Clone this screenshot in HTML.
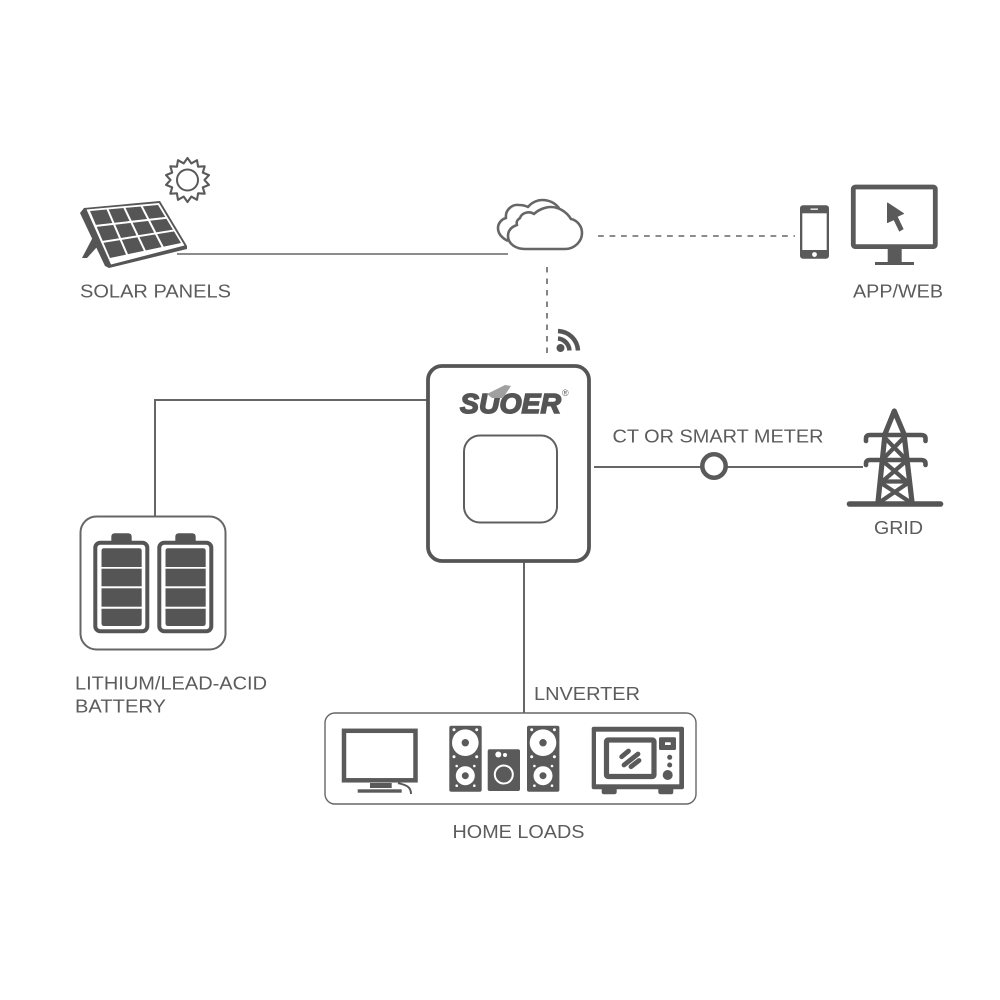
<!DOCTYPE html>
<html><head><meta charset="utf-8"><style>html,body{margin:0;padding:0;background:#fff}svg{display:block}
text{font-family:"Liberation Sans",sans-serif;font-size:18.5px;fill:#5c5c5c}</style></head><body>
<svg width="1000" height="1000" viewBox="0 0 1000 1000" xmlns="http://www.w3.org/2000/svg">
<rect width="1000" height="1000" fill="#fff"/>
<!-- connectors -->
<g fill="none" stroke="#666" stroke-width="1.6">
<path d="M177 254H508"/>
<path d="M598 236H795" stroke-dasharray="5.800 5.700"/>
<path d="M547 267V353" stroke-dasharray="5.500 6"/>
<path d="M427 400H155V516" stroke-width="2"/>
<path d="M594 467H701M727 467H863" stroke-width="2"/>
<path d="M524 562V713" stroke-width="2"/>
</g>
<!-- sun -->
<polygon fill="none" stroke="#5a5a5a" stroke-width="2.100" stroke-linejoin="round" points="204.500,180 209,184.900 202.800,187.400 204.700,193.700 198.100,193.300 197,199.800 191.300,196.600 187.500,202 183.700,196.600 178,199.800 176.900,193.300 170.300,193.700 172.200,187.400 166,184.900 170.500,180 166,175.100 172.200,172.600 170.300,166.300 176.900,166.700 178,160.200 183.700,163.400 187.500,158 191.300,163.400 197,160.200 198.100,166.700 204.700,166.300 202.800,172.600 209,175.100"/>
<circle cx="187.500" cy="180" r="10.500" fill="none" stroke="#5a5a5a" stroke-width="2"/>
<!-- solar panel -->
<polygon fill="#555" points="93,237 82,258 87,258 97,247"/>
<polygon fill="#555" points="80,213 84,208 160,201 187,246 187,249 109,268 105,266"/>
<polygon fill="#fff" points="86.500,209.500 159,203 184.500,245.500 111,264.500"/>
<polygon fill="#555" points="90,211 158,205 181,243 110,258"/>
<g stroke="#fff" stroke-width="2" fill="none">
<path d="M107 208L127.700 256M124 207L145.500 252M141 205L163.200 248"/>
<path d="M95 226L167 217.700M102 242L175 230.300"/>
</g>
<!-- cloud -->
<g fill="none" stroke="#666" stroke-width="2.600" stroke-linejoin="round">
<path d="M508 241C502 238 498 234 498 228C498 223 502 219 506 218C505 210 512 204 519 205C523 205 526 206 528 207C532 202 538 200 542 200C549 200 555 203 559 208"/>
<path fill="#fff" d="M525 249H565C575 249 582 241 582 233C582 225 576 220 571 219C566 211 558 207 551 207C545 207 538 210 534 214C530 211 522 212 520 218C517 220 516 222 517 225C511 227 508 231 508 236C508 244 516 249 525 249Z"/>
</g>
<!-- wifi -->
<circle cx="560.500" cy="348" r="4" fill="#555"/>
<path d="M558 338.500C564 339 569 344 569.500 350.500M558 331C569 331.500 577.500 340 578 350.500" fill="none" stroke="#555" stroke-width="4.500"/>
<!-- phone -->
<rect x="800" y="205.300" width="29" height="53.400" rx="3" fill="#5a5a5a"/>
<rect x="802.300" y="213.300" width="24.400" height="36.700" fill="#fff"/>
<rect x="810.500" y="208.500" width="7.500" height="1.300" fill="#fff"/>
<circle cx="814.500" cy="254.500" r="2.400" fill="#fff"/>
<!-- monitor -->
<rect x="853.300" y="187" width="82" height="59.600" rx="2" fill="#fff" stroke="#5a5a5a" stroke-width="4.800"/>
<rect x="887.700" y="249" width="14" height="14" fill="#5a5a5a"/>
<rect x="875" y="262" width="39" height="3" fill="#5a5a5a"/>
<polygon fill="#5a5a5a" stroke="#5a5a5a" stroke-linejoin="round" stroke-width="1" points="887.500,203 903.500,213.500 897,216.500 903,229 899.500,231 894,219.500 887.500,222.500"/>
<!-- inverter -->
<rect x="428" y="366" width="161" height="195" rx="14" fill="#fff" stroke="#555" stroke-width="3.800"/>
<rect x="464" y="435.500" width="93" height="87" rx="16" fill="#fff" stroke="#5f5f5f" stroke-width="2"/>
<text x="460" y="413" textLength="101" lengthAdjust="spacingAndGlyphs" style="font-size:27.500px;font-weight:bold;font-style:italic;fill:#555;stroke:#555;stroke-width:1.500">SUOER</text>
<polygon fill="#a0a0a0" points="487,394 505,385 511,386 503,398 492,398"/>
<text x="562" y="396" style="font-size:9px">®</text>
<!-- meter -->
<circle cx="714" cy="466" r="11.700" fill="#fff" stroke="#5a5a5a" stroke-width="4.500"/>
<!-- tower -->
<g fill="none" stroke="#555" stroke-linecap="round" stroke-linejoin="round">
<path d="M894.300 411L885 434L878 502M894.300 411L904 434L912 502" stroke-width="5.200"/>
<path d="M866 441V438.500Q866 435 870 435H921Q925.500 435 925.500 438.500V441M866 465V463.500Q866 460 870 460H921Q925.500 460 925.500 463.500V465" stroke-width="4.600"/>
<path d="M885 438L903.500 457M903.500 438L885 457M884 462L905 480M905 462L884 480M881 483L910 502M908 483L880 502M883 481.500H906" stroke-width="4.200"/>
<path d="M849.500 504H940.500" stroke-width="5.600"/>
</g>
<!-- battery box -->
<rect x="80.500" y="516.500" width="145" height="133" rx="16" fill="#fff" stroke="#666" stroke-width="2"/>
<g fill="#555">
<path d="M111.300 541V537Q111.300 533.300 115 533.300H128Q131.700 533.300 131.700 537V541Z"/>
<rect x="95.300" y="542.700" width="52" height="88.600" rx="5" fill="#fff" stroke="#555" stroke-width="4"/>
<path d="M101.500 551Q101.500 548.300 104 548.300H139Q141.700 548.300 141.700 551V567H101.500Z"/>
<rect x="101.500" y="568.700" width="40.200" height="17.600"/>
<rect x="101.500" y="588.300" width="40.200" height="18.400"/>
<path d="M101.500 608.700H141.700V623Q141.700 626 139 626H104Q101.500 626 101.500 623Z"/>
</g>
<g fill="#555" transform="translate(64 0)">
<path d="M111.300 541V537Q111.300 533.300 115 533.300H128Q131.700 533.300 131.700 537V541Z"/>
<rect x="95.300" y="542.700" width="52" height="88.600" rx="5" fill="#fff" stroke="#555" stroke-width="4"/>
<path d="M101.500 551Q101.500 548.300 104 548.300H139Q141.700 548.300 141.700 551V567H101.500Z"/>
<rect x="101.500" y="568.700" width="40.200" height="17.600"/>
<rect x="101.500" y="588.300" width="40.200" height="18.400"/>
<path d="M101.500 608.700H141.700V623Q141.700 626 139 626H104Q101.500 626 101.500 623Z"/>
</g>
<!-- loads box -->
<rect x="325" y="713" width="371" height="91" rx="10" fill="#fff" stroke="#666" stroke-width="1.400"/>
<!-- TV -->
<rect x="344" y="730.800" width="71.500" height="49.500" fill="#fff" stroke="#5a5a5a" stroke-width="4.500"/>
<rect x="370" y="783" width="21.700" height="5" fill="#5a5a5a"/>
<rect x="357.700" y="789.300" width="44" height="3.400" fill="#5a5a5a"/>
<path d="M398 783C405 785 411 786 411 794" fill="none" stroke="#5a5a5a" stroke-width="2"/>
<!-- speakers -->
<g>
<rect x="449.300" y="725.700" width="32.400" height="66" rx="2" fill="#5a5a5a"/>
<circle cx="465.300" cy="742.700" r="13.300" fill="#fff"/><circle cx="465.300" cy="742.700" r="3.700" fill="#5a5a5a"/>
<circle cx="465.300" cy="775.700" r="9.500" fill="#fff"/><circle cx="465.300" cy="775.700" r="3.500" fill="#5a5a5a"/>
<g fill="#fff"><circle cx="454" cy="729.700" r="1.500"/><circle cx="476.700" cy="729.700" r="1.500"/><circle cx="454" cy="756.700" r="1.500"/><circle cx="476.700" cy="756.700" r="1.500"/><circle cx="456.700" cy="766" r="1.300"/><circle cx="474.300" cy="766" r="1.300"/><circle cx="456.700" cy="785.700" r="1.300"/><circle cx="474.300" cy="785.700" r="1.300"/></g>
</g>
<g transform="translate(77.700 0)">
<rect x="449.300" y="725.700" width="32.400" height="66" rx="2" fill="#5a5a5a"/>
<circle cx="465.300" cy="742.700" r="13.300" fill="#fff"/><circle cx="465.300" cy="742.700" r="3.700" fill="#5a5a5a"/>
<circle cx="465.300" cy="775.700" r="9.500" fill="#fff"/><circle cx="465.300" cy="775.700" r="3.500" fill="#5a5a5a"/>
<g fill="#fff"><circle cx="454" cy="729.700" r="1.500"/><circle cx="476.700" cy="729.700" r="1.500"/><circle cx="454" cy="756.700" r="1.500"/><circle cx="476.700" cy="756.700" r="1.500"/><circle cx="456.700" cy="766" r="1.300"/><circle cx="474.300" cy="766" r="1.300"/><circle cx="456.700" cy="785.700" r="1.300"/><circle cx="474.300" cy="785.700" r="1.300"/></g>
</g>
<rect x="487.700" y="749.300" width="32.300" height="41.700" rx="2" fill="#5a5a5a"/>
<circle cx="498.300" cy="754.500" r="3" fill="#fff"/><circle cx="505" cy="755" r="2" fill="#fff"/>
<circle cx="503.800" cy="774.500" r="9" fill="none" stroke="#fff" stroke-width="2"/>
<!-- microwave -->
<rect x="591.700" y="726.700" width="92.300" height="62.600" rx="2" fill="#5a5a5a"/>
<rect x="596" y="731.700" width="83.300" height="52.600" fill="#fff"/>
<path d="M601.700 789H616.700V792Q616.700 794.300 614 794.300H604Q601.700 794.300 601.700 792ZM658.300 789H673.300V792Q673.300 794.300 671 794.300H661Q658.300 794.300 658.300 792Z" fill="#5a5a5a"/>
<rect x="606.500" y="740" width="47.500" height="36.500" rx="1.500" fill="#fff" stroke="#5a5a5a" stroke-width="5.200"/>
<g stroke="#5a5a5a" stroke-width="4.800" stroke-linecap="round"><path d="M621.700 756.700L628.500 751M624 765L638 754M631 766.700L639 760.500"/></g>
<rect x="659" y="737.300" width="17" height="12.700" rx="1.500" fill="#5a5a5a"/>
<rect x="665" y="742.300" width="5.700" height="2.700" fill="#fff"/>
<circle cx="669.700" cy="757.300" r="2.500" fill="#5a5a5a"/><circle cx="669.700" cy="765" r="2.500" fill="#5a5a5a"/><circle cx="667.700" cy="775" r="5" fill="#5a5a5a"/>
<!-- labels -->
<text x="80" y="297.500" textLength="151" lengthAdjust="spacingAndGlyphs">SOLAR PANELS</text>
<text x="853" y="297.500" textLength="90" lengthAdjust="spacingAndGlyphs">APP/WEB</text>
<text x="612.500" y="442.700" textLength="211" lengthAdjust="spacingAndGlyphs">CT OR SMART METER</text>
<text x="874" y="534" textLength="49" lengthAdjust="spacingAndGlyphs">GRID</text>
<text x="75" y="689.500" textLength="192" lengthAdjust="spacingAndGlyphs">LITHIUM/LEAD-ACID</text>
<text x="75" y="712.500" textLength="91" lengthAdjust="spacingAndGlyphs">BATTERY</text>
<text x="534" y="700" textLength="106" lengthAdjust="spacingAndGlyphs">LNVERTER</text>
<text x="452.500" y="838" textLength="132" lengthAdjust="spacingAndGlyphs">HOME LOADS</text>
</svg>
</body></html>
